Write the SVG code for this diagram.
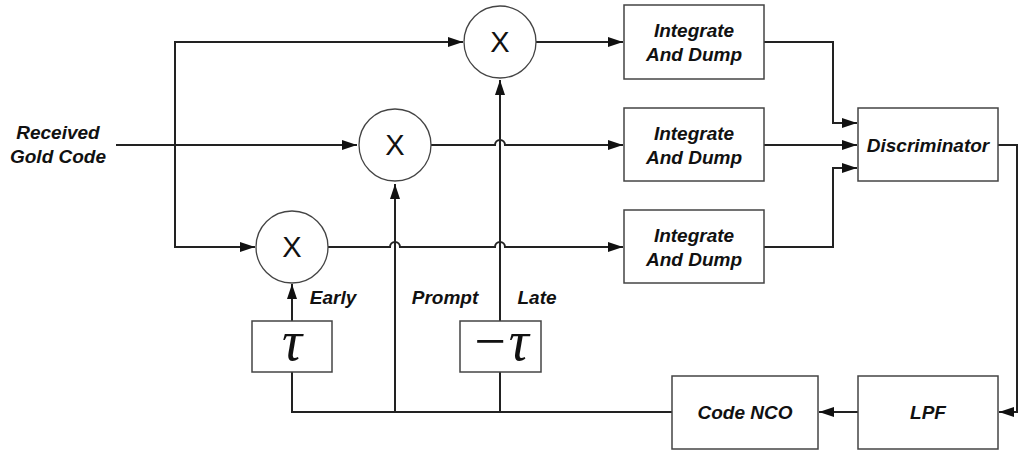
<svg xmlns="http://www.w3.org/2000/svg" width="1019" height="453" viewBox="0 0 1019 453">
<defs>
<marker id="arr" markerUnits="userSpaceOnUse" markerWidth="15" markerHeight="10" refX="15" refY="5" orient="auto">
<path d="M0,0 L15,5 L0,10 z" fill="#111"/>
</marker>
<style>
.box{fill:#fff;stroke:#444;stroke-width:1.5}
.circ{fill:#fff;stroke:#444;stroke-width:1.3}
.wire{fill:none;stroke:#222;stroke-width:2}
.lbl{font-family:"Liberation Sans",Arial,sans-serif;font-weight:bold;font-style:italic;font-size:19px;fill:#111;text-anchor:middle}
.x{font-family:"Liberation Sans",Arial,sans-serif;font-size:29px;fill:#111;text-anchor:middle}
.tau{font-family:"Liberation Serif","DejaVu Serif",serif;font-style:italic;font-size:56px;fill:#111;text-anchor:middle}
</style>
</defs>
<rect width="1019" height="453" fill="#fff"/>
<g id="connectors">
<path class="wire" d="M116,145 H357" marker-end="url(#arr)"/>
<path class="wire" d="M175,145 V42 H463" marker-end="url(#arr)"/>
<path class="wire" d="M175,145 V247 H255" marker-end="url(#arr)"/>
<path class="wire" d="M536,42 H623" marker-end="url(#arr)"/>
<path class="wire" d="M431,145 H495 a5,5 0 0 1 10,0 H623" marker-end="url(#arr)"/>
<path class="wire" d="M328,247 H390 a5,5 0 0 1 10,0 H495 a5,5 0 0 1 10,0 H623" marker-end="url(#arr)"/>
<path class="wire" d="M764,42 H833 V123 H857" marker-end="url(#arr)"/>
<path class="wire" d="M764,145 H857" marker-end="url(#arr)"/>
<path class="wire" d="M764,247 H833 V168 H857" marker-end="url(#arr)"/>
<path class="wire" d="M998,145 H1017 V412 H999" marker-end="url(#arr)"/>
<path class="wire" d="M858,412 H819" marker-end="url(#arr)"/>
<path class="wire" d="M672,412 H292 V372"/>
<path class="wire" d="M292,321 V284" marker-end="url(#arr)"/>
<path class="wire" d="M395,412 V184" marker-end="url(#arr)"/>
<path class="wire" d="M500,412 V372"/>
<path class="wire" d="M500,321 V80" marker-end="url(#arr)"/>
</g>
<g id="label-input"><text class="lbl" x="58" y="139">Received</text><text class="lbl" x="58" y="163">Gold Code</text></g>
<g id="mult-late"><circle class="circ" cx="500" cy="42" r="36"/><text class="x" x="500" y="52">X</text></g>
<g id="mult-prompt"><circle class="circ" cx="395" cy="145" r="36"/><text class="x" x="395" y="155">X</text></g>
<g id="mult-early"><circle class="circ" cx="292" cy="247" r="36"/><text class="x" x="292" y="257">X</text></g>
<g id="iad-1"><rect class="box" x="624" y="5" width="140" height="74"/><text class="lbl" x="694" y="37">Integrate</text><text class="lbl" x="694" y="61">And Dump</text></g>
<g id="iad-2"><rect class="box" x="624" y="108" width="140" height="73"/><text class="lbl" x="694" y="140">Integrate</text><text class="lbl" x="694" y="164">And Dump</text></g>
<g id="iad-3"><rect class="box" x="624" y="210" width="140" height="73"/><text class="lbl" x="694" y="242">Integrate</text><text class="lbl" x="694" y="266">And Dump</text></g>
<g id="discriminator"><rect class="box" x="858" y="108" width="140" height="73"/><text class="lbl" x="928" y="152">Discriminator</text></g>
<g id="lpf"><rect class="box" x="858" y="376" width="140" height="73"/><text class="lbl" x="928" y="419">LPF</text></g>
<g id="code-nco"><rect class="box" x="672" y="376" width="146" height="73"/><text class="lbl" x="745" y="419">Code NCO</text></g>
<g id="delay-early"><rect class="box" x="252" y="321" width="80" height="51"/><text class="tau" x="292" y="360">τ</text></g>
<g id="delay-late"><rect class="box" x="460" y="321" width="81" height="51"/><text class="tau" x="500" y="360">−τ</text></g>
<g id="labels"><text class="lbl" x="333" y="304">Early</text><text class="lbl" x="445" y="304">Prompt</text><text class="lbl" x="537" y="304">Late</text></g>
</svg>
